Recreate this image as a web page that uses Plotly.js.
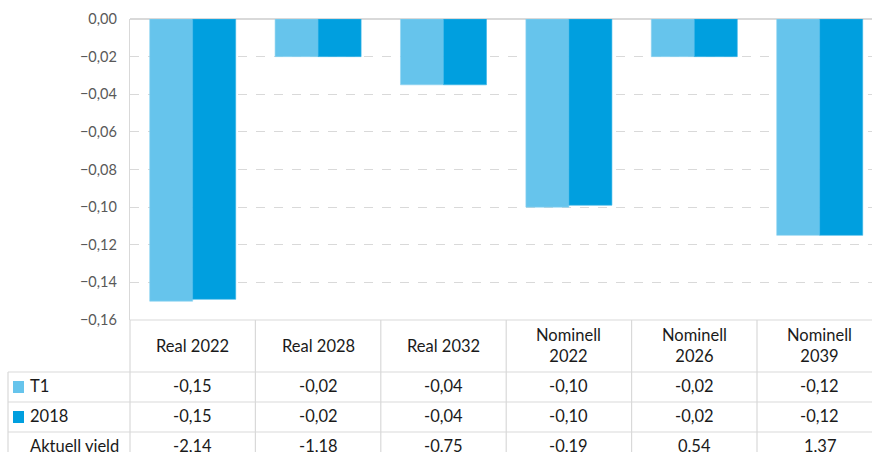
<!DOCTYPE html>
<html><head><meta charset="utf-8">
<script src="https://cdn.plot.ly/plotly-3.0.1.min.js"></script>
<style>html,body{margin:0;padding:0;background:#fff}#chart{width:872px;height:452px}</style>
</head><body><div id="chart"></div>
<script>
const categories = ['Real 2022','Real 2028','Real 2032','Nominell 2022','Nominell 2026','Nominell 2039'];
const headerLabels = ['Real 2022','Real 2028','Real 2032','Nominell<br>2022','Nominell<br>2026','Nominell<br>2039'];
const seriesNames = ['T1','2018'];
const t1Values = [-0.150, -0.020, -0.035, -0.100, -0.020, -0.115];
const y2018Values = [-0.149, -0.020, -0.035, -0.099, -0.020, -0.115];
const aktuellYield = [-2.14, -1.18, -0.75, -0.19, 0.54, 1.37];
const colors = ['#66C4EC', '#009FDF'];

// layout geometry (pixels)
const W = 872, H = 452, L = 130, T = 19, plotB = 320;
const catW = 125.4;
const xr = [-0.5, -0.5 + (W - L) / catW];
const plotH = plotB - T;
const py = p => (plotB - p) / plotH;              // pixel y -> paper y
const pxc = v => (v - xr[0]) / (xr[1] - xr[0]);   // category index -> paper x
const ppx = p => (p - L) / (W - L);               // pixel x -> paper x
const fmt = v => v.toFixed(2).replace('.', ',');

const gridCol = '#d9d9d9';
const txtCol = '#1a1a1a';
const font = 'Lato, "Open Sans", sans-serif';

const traces = [
  {type:'bar', name:seriesNames[0], x:categories, y:t1Values, marker:{color:colors[0], line:{color:'#8dd3f1', width:0.6}}, hoverinfo:'skip'},
  {type:'bar', name:seriesNames[1], x:categories, y:y2018Values, marker:{color:colors[1], line:{color:'#3bb5e8', width:0.6}}, hoverinfo:'skip'}
];

const rowY = [372, 402, 432, 462]; // row borders
const shapes = [];
const line = (x0,y0,x1,y1) => ({type:'line', xref:'paper', yref:'paper', x0, y0, x1, y1, line:{color:gridCol, width:1.2}, layer:'above'});
shapes.push(line(0, py(plotB), 1, py(plotB)));
rowY.forEach(r => shapes.push(line(ppx(8), py(r), 1, py(r))));
shapes.push(line(0, py(plotB), 0, py(H + 10)));
for (let i = 0; i < categories.length; i++) {
  const xb = pxc(i + 0.5);
  if (xb <= 1) shapes.push(line(xb, py(plotB), xb, py(H + 10)));
}
shapes.push(line(ppx(8), py(rowY[0]), ppx(8), py(H + 10)));
[0,1].forEach(k => {
  const yc = (rowY[k] + rowY[k+1]) / 2;
  shapes.push({type:'rect', xref:'paper', yref:'paper', x0:ppx(13), x1:ppx(24), y0:py(yc + 6), y1:py(yc - 6), fillcolor:colors[k], line:{width:0}});
});

const annotations = [];
const ann = (x, xref, y, text, extra) => Object.assign({x, xref, y:py(y), yref:'paper', text, showarrow:false, font:{family:font, size:16.5, color:txtCol}, xanchor:'center', yanchor:'middle'}, extra||{});
categories.forEach((c, i) => {
  annotations.push(ann(c, 'x', 346, headerLabels[i]));
  annotations.push(ann(c, 'x', 386, fmt(t1Values[i])));
  annotations.push(ann(c, 'x', 416, fmt(y2018Values[i])));
  annotations.push(ann(c, 'x', 446, fmt(aktuellYield[i])));
});
const rowNames = [seriesNames[0], seriesNames[1], 'Aktuell yield'];
[386, 416, 446].forEach((yc, k) => {
  annotations.push(ann(ppx(28), 'paper', yc, rowNames[k], {xanchor:'left'}));
});

const layout = {
  width: W, height: H,
  margin: {l: L, r: 0, t: T, b: H - plotB, pad: 0},
  paper_bgcolor: '#fff', plot_bgcolor: '#fff',
  showlegend: false,
  barmode: 'group', bargap: 0.314, bargroupgap: 0,
  separators: ',.',
  xaxis: {type:'category', range: xr, showticklabels:false, showgrid:false, zeroline:false, showline:false, ticks:''},
  yaxis: {range:[-0.16, 0], dtick:0.02, tick0:0, tickformat:'.2f', showgrid:true, gridcolor:gridCol, griddash:'dash', gridwidth:1,
          zeroline:true, zerolinecolor:gridCol, zerolinewidth:1.2, showline:true, linecolor:gridCol, linewidth:1.2,
          ticks:'', ticklabelstandoff:9, tickfont:{family:font, size:14.5, color:'#595959'}},
  shapes, annotations,
  font: {family: font}
};
Plotly.newPlot('chart', traces, layout, {staticPlot:true, displayModeBar:false});
</script></body></html>
